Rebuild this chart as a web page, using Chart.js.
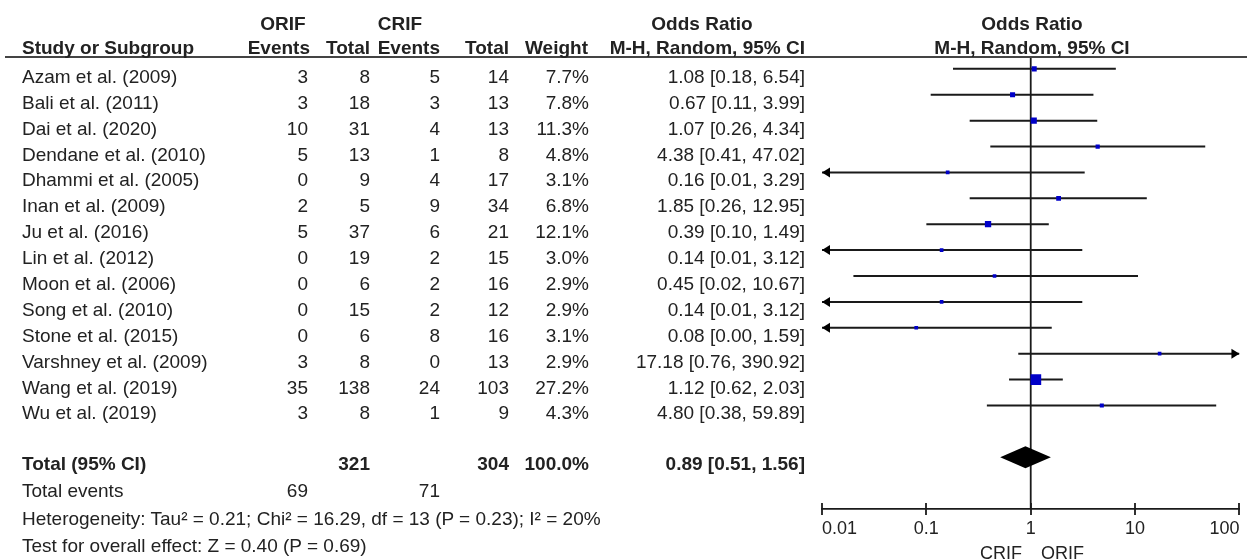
<!DOCTYPE html>
<html>
<head>
<meta charset="utf-8">
<script src="https://cdn.jsdelivr.net/npm/chart.js@4.4.0/dist/chart.umd.min.js"></script>
<style>
    html, body { margin: 0; padding: 0; background: #fff; }
    #wrap { position: relative; width: 1247px; height: 559px; overflow: hidden; }
    #forest { position: absolute; left: 0; top: 0; }
    .t {
        position: absolute;
        font-family: "Liberation Sans", Arial, sans-serif;
        font-size: 19px;
        line-height: 1;
        color: #222;
        white-space: nowrap;
    }
    .b { font-weight: bold; }
    #hline { position: absolute; left: 5px; right: 0; top: 56px; height: 2px; background: #444; }
</style>
</head>
<body>
<div id="wrap">
    <canvas id="forest" width="1247" height="559"></canvas>
    <div id="hline"></div>
</div>
<script>
const studies = ['Azam et al. (2009)', 'Bali et al. (2011)', 'Dai et al. (2020)', 'Dendane et al. (2010)',
    'Dhammi et al. (2005)', 'Inan et al. (2009)', 'Ju et al. (2016)', 'Lin et al. (2012)', 'Moon et al. (2006)',
    'Song et al. (2010)', 'Stone et al. (2015)', 'Varshney et al. (2009)', 'Wang et al. (2019)', 'Wu et al. (2019)'];
const orifEvents = [3, 3, 10, 5, 0, 2, 5, 0, 0, 0, 0, 3, 35, 3];
const orifTotal = [8, 18, 31, 13, 9, 5, 37, 19, 6, 15, 6, 8, 138, 8];
const crifEvents = [5, 3, 4, 1, 4, 9, 6, 2, 2, 2, 8, 0, 24, 1];
const crifTotal = [14, 13, 13, 8, 17, 34, 21, 15, 16, 12, 16, 13, 103, 9];
const weights = [7.7, 7.8, 11.3, 4.8, 3.1, 6.8, 12.1, 3.0, 2.9, 2.9, 3.1, 2.9, 27.2, 4.3];
const oddsRatio = [1.08, 0.67, 1.07, 4.38, 0.16, 1.85, 0.39, 0.14, 0.45, 0.14, 0.08, 17.18, 1.12, 4.80];
const ciLow = [0.18, 0.11, 0.26, 0.41, 0.01, 0.26, 0.10, 0.01, 0.02, 0.01, 0.00, 0.76, 0.62, 0.38];
const ciHigh = [6.54, 3.99, 4.34, 47.02, 3.29, 12.95, 1.49, 3.12, 10.67, 3.12, 1.59, 390.92, 2.03, 59.89];

const totalOR = [0.89, 0.51, 1.56];   // estimate, lower, upper
const totalN = [321, 304];            // ORIF, CRIF
const totalEvents = [69, 71];         // ORIF, CRIF
const totalWeight = 100.0;

const xTicks = [0.01, 0.1, 1, 10, 100];
const xTickLabels = ['0.01', '0.1', '1', '10', '100'];
const xMin = 0.01, xMax = 100;

// row positions (px) shared by the html table and the chart
const W = 1247;
const plotTop = 58, plotBottom = 509, yMin = -0.42, yMax = 17;
const rowPx = i => plotTop + (i - yMin) * (plotBottom - plotTop) / (yMax - yMin);
const textY = i => rowPx(i) + 7;
const TOTAL_ROW = 15;

const wrap = document.getElementById('wrap');
function put(txt, x, y, align, bold, size) {
    const d = document.createElement('div');
    d.className = 't' + (bold ? ' b' : '');
    d.textContent = txt;
    d.style.top = y + 'px';
    if (size) d.style.fontSize = size + 'px';
    if (align === 'right') {
        d.style.right = (W - x) + 'px';
        d.style.transform = 'translateY(-50%)';
    } else if (align === 'center') {
        d.style.left = x + 'px';
        d.style.transform = 'translate(-50%, -50%)';
    } else {
        d.style.left = x + 'px';
        d.style.transform = 'translateY(-50%)';
    }
    wrap.appendChild(d);
}

const col = { name: 22, oe: 308, ot: 370, ce: 440, ct: 509, w: 589, ci: 805 };
const fmt = v => v.toFixed(2);

// header
put('ORIF', 283, 23, 'center', true);
put('CRIF', 400, 23, 'center', true);
put('Odds Ratio', 702, 23, 'center', true);
put('Odds Ratio', 1032, 23, 'center', true);
put('Study or Subgroup', col.name, 47, 'left', true);
put('Events', col.oe + 2, 47, 'right', true);
put('Total', col.ot, 47, 'right', true);
put('Events', col.ce, 47, 'right', true);
put('Total', col.ct, 47, 'right', true);
put('Weight', col.w - 1, 47, 'right', true);
put('M-H, Random, 95% CI', col.ci, 47, 'right', true);
put('M-H, Random, 95% CI', 1032, 47, 'center', true);

studies.forEach((s, i) => {
    const y = textY(i);
    put(s, col.name, y, 'left');
    put(String(orifEvents[i]), col.oe, y, 'right');
    put(String(orifTotal[i]), col.ot, y, 'right');
    put(String(crifEvents[i]), col.ce, y, 'right');
    put(String(crifTotal[i]), col.ct, y, 'right');
    put(weights[i].toFixed(1) + '%', col.w, y, 'right');
    put(fmt(oddsRatio[i]) + ' [' + fmt(ciLow[i]) + ', ' + fmt(ciHigh[i]) + ']', col.ci, y, 'right');
});

const ty = textY(TOTAL_ROW) - 1;
put('Total (95% CI)', col.name, ty, 'left', true);
put(String(totalN[0]), col.ot, ty, 'right', true);
put(String(totalN[1]), col.ct, ty, 'right', true);
put(totalWeight.toFixed(1) + '%', col.w, ty, 'right', true);
put(fmt(totalOR[0]) + ' [' + fmt(totalOR[1]) + ', ' + fmt(totalOR[2]) + ']', col.ci, ty, 'right', true);
put('Total events', col.name, 490, 'left');
put(String(totalEvents[0]), col.oe, 490, 'right');
put(String(totalEvents[1]), col.ce, 490, 'right');
put('Heterogeneity: Tau² = 0.21; Chi² = 16.29, df = 13 (P = 0.23); I² = 20%', col.name, 518, 'left');
put('Test for overall effect: Z = 0.40 (P = 0.69)', col.name, 545, 'left');
put('CRIF', 1022, 553, 'right', false, 18);
put('ORIF', 1041, 553, 'left', false, 18);

// chart data
const clamp = v => Math.min(xMax, Math.max(xMin, v));
const squares = studies.map((s, i) => ({ x: oddsRatio[i], y: i }));
const squareRadius = weights.map(w => (2.8 + 0.29 * w) / Math.SQRT2);
const ciSegments = [];
studies.forEach((s, i) => {
    ciSegments.push({ x: clamp(ciLow[i]), y: i }, { x: clamp(ciHigh[i]), y: i }, { x: null, y: null });
});

const ink = '#1a1a1a';

const forestExtras = {
    id: 'forestExtras',
    afterDatasetsDraw(chart) {
        const ctx = chart.ctx;
        const xs = chart.scales.x, ys = chart.scales.y;
        ctx.save();
        ctx.fillStyle = '#000';
        // arrows for intervals running off the axis
        studies.forEach((s, i) => {
            const y = ys.getPixelForValue(i);
            if (ciLow[i] <= xMin) {
                const x = xs.getPixelForValue(xMin);
                ctx.beginPath();
                ctx.moveTo(x, y);
                ctx.lineTo(x + 8, y - 5);
                ctx.lineTo(x + 8, y + 5);
                ctx.closePath();
                ctx.fill();
            }
            if (ciHigh[i] >= xMax) {
                const x = xs.getPixelForValue(xMax);
                ctx.beginPath();
                ctx.moveTo(x, y);
                ctx.lineTo(x - 8, y - 5);
                ctx.lineTo(x - 8, y + 5);
                ctx.closePath();
                ctx.fill();
            }
        });
        // pooled estimate diamond
        const dy = ys.getPixelForValue(TOTAL_ROW);
        const xl = xs.getPixelForValue(totalOR[1]);
        const xc = xs.getPixelForValue(totalOR[0]);
        const xr = xs.getPixelForValue(totalOR[2]);
        ctx.beginPath();
        ctx.moveTo(xl, dy);
        ctx.lineTo(xc, dy - 11);
        ctx.lineTo(xr, dy);
        ctx.lineTo(xc, dy + 11);
        ctx.closePath();
        ctx.fill();
        ctx.restore();
    },
    afterDraw(chart) {
        const ctx = chart.ctx;
        const xs = chart.scales.x;
        const y = chart.chartArea.bottom;
        ctx.save();
        ctx.strokeStyle = ink;
        ctx.lineWidth = 1.8;
        xTicks.forEach(v => {
            const x = Math.round(xs.getPixelForValue(v));
            ctx.beginPath();
            ctx.moveTo(x, y - 6);
            ctx.lineTo(x, y + 6);
            ctx.stroke();
        });
        ctx.restore();
    }
};

new Chart(document.getElementById('forest').getContext('2d'), {
    type: 'scatter',
    data: {
        datasets: [
            {
                label: 'Study OR',
                data: squares,
                pointStyle: 'rect',
                pointRadius: squareRadius,
                pointBorderWidth: 0,
                backgroundColor: '#0000c8',
                borderColor: '#0000c8',
                order: 0
            },
            {
                label: '95% CI',
                data: ciSegments,
                showLine: true,
                spanGaps: false,
                pointRadius: 0,
                borderColor: ink,
                borderWidth: 2,
                order: 1
            },
            {
                label: 'No effect',
                data: [{ x: 1, y: yMin }, { x: 1, y: yMax }],
                showLine: true,
                pointRadius: 0,
                borderColor: ink,
                borderWidth: 1.8,
                order: 2
            }
        ]
    },
    options: {
        responsive: false,
        animation: false,
        layout: {
            padding: { left: 822, right: 2, top: plotTop, bottom: 5 }
        },
        scales: {
            x: {
                type: 'logarithmic',
                min: xMin,
                max: xMax,
                afterBuildTicks: scale => {
                    scale.ticks = xTicks.map(v => ({ value: v }));
                },
                afterFit: scale => {
                    scale.height = 559 - plotBottom - 5;
                    scale.paddingLeft = 0;
                    scale.paddingRight = 0;
                },
                grid: { display: false, drawTicks: false },
                border: { display: true, color: ink, width: 1.8 },
                ticks: {
                    align: 'inner',
                    autoSkip: false,
                    maxRotation: 0,
                    padding: 9,
                    color: '#222',
                    font: { family: '"Liberation Sans", Arial, sans-serif', size: 18 },
                    callback: (v, i) => xTickLabels[i]
                }
            },
            y: {
                type: 'linear',
                display: false,
                min: yMin,
                max: yMax,
                reverse: true
            }
        },
        plugins: {
            legend: { display: false },
            tooltip: { enabled: false }
        }
    },
    plugins: [forestExtras]
});
</script>
</body>
</html>
